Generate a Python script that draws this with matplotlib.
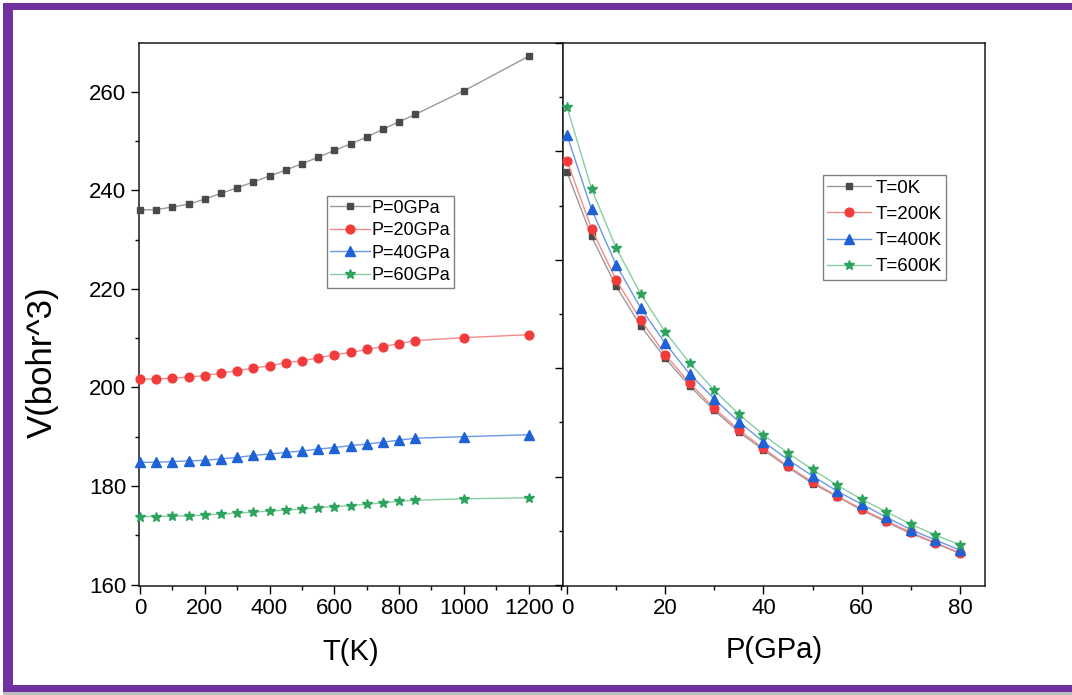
import matplotlib
matplotlib.use("Agg")
import matplotlib.pyplot as plt
from matplotlib.patches import Rectangle
from matplotlib.ticker import MultipleLocator, NullFormatter

plt.rcParams['font.family'] = ['Liberation Sans', 'DejaVu Sans']

# ---- data: left panel V(T) at fixed pressures ----
T_K = [0, 50, 100, 150, 200, 250, 300, 350, 400, 450, 500, 550, 600, 650, 700, 750, 800, 850, 1000, 1200]
V_P0 = [236.0, 236.1, 236.6, 237.2, 238.2, 239.4, 240.5, 241.7, 242.9, 244.1, 245.4, 246.7, 248.1, 249.4, 250.8, 252.4, 253.9, 255.4, 260.2, 267.2]
V_P20 = [201.7, 201.7, 201.9, 202.1, 202.4, 202.9, 203.4, 203.9, 204.4, 205.0, 205.4, 206.0, 206.6, 207.1, 207.7, 208.3, 208.9, 209.5, 210.1, 210.7]
V_P40 = [184.8, 184.8, 184.95, 185.1, 185.2, 185.5, 185.8, 186.2, 186.5, 186.8, 187.1, 187.5, 187.8, 188.2, 188.5, 188.9, 189.3, 189.7, 190.0, 190.4]
V_P60 = [173.8, 173.8, 173.9, 173.9, 174.1, 174.3, 174.5, 174.7, 174.9, 175.1, 175.3, 175.6, 175.8, 176.0, 176.3, 176.6, 176.9, 177.1, 177.4, 177.6]
left_labels = ['P=0GPa', 'P=20GPa', 'P=40GPa', 'P=60GPa']

# ---- data: right panel V(P) at fixed temperatures ----
P_GPa = [0, 5, 10, 15, 20, 25, 30, 35, 40, 45, 50, 55, 60, 65, 70, 75, 80]
V_T0 = [236.2, 224.3, 215.1, 207.8, 201.8, 196.7, 192.2, 188.2, 184.9, 181.7, 178.7, 176.3, 173.8, 171.6, 169.5, 167.7, 165.8]
V_T200 = [238.3, 225.7, 216.3, 208.9, 202.5, 197.2, 192.6, 188.6, 185.2, 181.9, 179.0, 176.4, 174.0, 171.8, 169.7, 167.8, 165.9]
V_T400 = [243.0, 229.3, 219.1, 211.1, 204.6, 198.9, 194.3, 190.1, 186.4, 183.1, 180.1, 177.3, 174.9, 172.5, 170.2, 168.3, 166.4]
V_T600 = [248.2, 233.1, 222.2, 213.7, 206.7, 200.9, 195.9, 191.5, 187.7, 184.3, 181.3, 178.4, 175.8, 173.5, 171.2, 169.2, 167.4]
right_labels = ['T=0K', 'T=200K', 'T=400K', 'T=600K']

# styles: (marker, markersize, marker color, line color)
styles = [('s', 5.0, '#4a4a4a', '#9a9a9a'),
          ('o', 6.3, '#f23c3c', '#f58a8a'),
          ('^', 6.5, '#1e62d6', '#6a98e4'),
          ('*', 7.5, '#2ea35e', '#86cfa0')]

W, H = 1072, 695
fig = plt.figure(figsize=(W / 100, H / 100), dpi=100)

def fx(px):
    return px / W

def fy(py):
    return 1 - py / H

# purple frame
purple = '#7030a0'
fig.patches.append(Rectangle((fx(3), fy(10)), fx(W) - fx(3), 7 / H, transform=fig.transFigure,
                             facecolor=purple, edgecolor='none', zorder=10))
fig.patches.append(Rectangle((fx(3), fy(692)), 10 / W, (692 - 3) / H, transform=fig.transFigure,
                             facecolor=purple, edgecolor='none', zorder=10))
fig.patches.append(Rectangle((fx(3), fy(692)), fx(W) - fx(3), 7 / H, transform=fig.transFigure,
                             facecolor=purple, edgecolor='none', zorder=10))
fig.patches.append(Rectangle((fx(3), fy(695)), fx(W) - fx(3), 3 / H, transform=fig.transFigure,
                             facecolor='#bdbdbd', edgecolor='none', zorder=9))

top, bottom = 43, 586
axL = fig.add_axes([fx(139), fy(bottom), fx(563) - fx(139), (bottom - top) / H])
axR = fig.add_axes([fx(563), fy(bottom), fx(985) - fx(563), (bottom - top) / H])

left_series = [V_P0, V_P20, V_P40, V_P60]
for vals, lab, (m, ms, mc, lc) in zip(left_series, left_labels, styles):
    axL.plot(T_K, vals, color=lc, lw=1.0, marker=m, ms=ms, mfc=mc, mec=mc,
             label=lab, clip_on=False, zorder=3)

right_series = [V_T0, V_T200, V_T400, V_T600]
for vals, lab, (m, ms, mc, lc) in zip(right_series, right_labels, styles):
    axR.plot(P_GPa, vals, color=lc, lw=1.0, marker=m, ms=ms, mfc=mc, mec=mc,
             label=lab, clip_on=False, zorder=3)

axL.set_xlim(-3, 1306)
axL.set_ylim(159.7, 269.9)
axR.set_xlim(-0.81, 85.1)
axR.set_ylim(159.8, 260.0)

tick_fs = 16
for ax in (axL, axR):
    for s in ax.spines.values():
        s.set_linewidth(1.1)
        s.set_color('#1a1a1a')
    ax.tick_params(which='major', direction='out', length=6, width=1.0, labelsize=tick_fs, pad=3)
    ax.tick_params(which='minor', direction='out', length=3, width=1.0)

axL.xaxis.set_major_locator(MultipleLocator(200))
axL.xaxis.set_minor_locator(MultipleLocator(100))
axL.yaxis.set_major_locator(MultipleLocator(20))
axL.yaxis.set_minor_locator(MultipleLocator(10))
axL.tick_params(axis='y', which='both', right=False)

axR.xaxis.set_major_locator(MultipleLocator(20))
axR.xaxis.set_minor_locator(MultipleLocator(10))
axR.yaxis.set_major_locator(MultipleLocator(20))
axR.yaxis.set_minor_locator(MultipleLocator(10))
axR.yaxis.set_major_formatter(NullFormatter())

label_fs = 21
fig.text(fx(351), fy(652), 'T(K)', fontsize=label_fs, ha='center', va='center')
fig.text(fx(774), fy(650), 'P(GPa)', fontsize=label_fs, ha='center', va='center')
fig.text(fx(42), fy(362), 'V(bohr^3)', fontsize=25, ha='center', va='center', rotation=90)

common = dict(loc='upper left', frameon=True, fancybox=False, numpoints=1,
              borderaxespad=0.0, edgecolor='#808080', framealpha=1.0)
lgL = axL.legend(bbox_to_anchor=(fx(326.7), fy(196)), bbox_transform=fig.transFigure,
                 fontsize=13, handlelength=2.2, handletextpad=0.1, borderpad=0.2,
                 labelspacing=0.31, **common)
lgR = axR.legend(bbox_to_anchor=(fx(822.7), fy(175)), bbox_transform=fig.transFigure,
                 fontsize=13.5, handlelength=2.35, handletextpad=0.2, borderpad=0.25,
                 labelspacing=0.48, **common)
for lg in (lgL, lgR):
    lg.get_frame().set_linewidth(1.0)

fig.savefig('out.png', dpi=100)
